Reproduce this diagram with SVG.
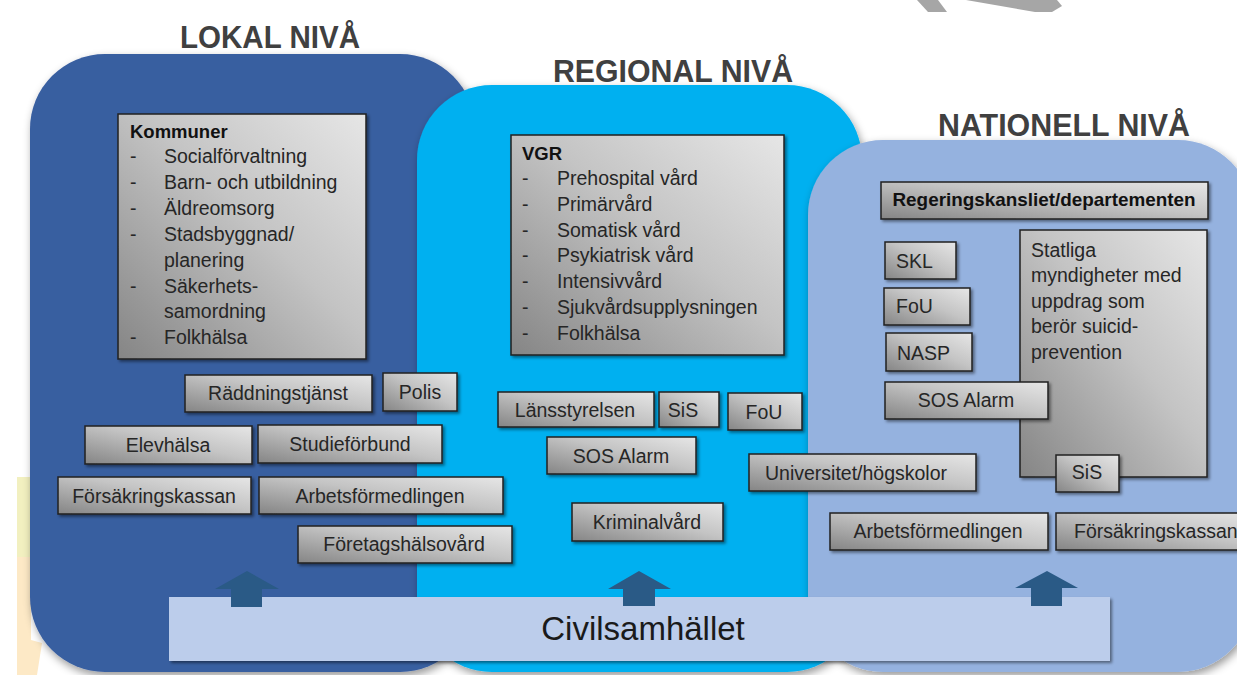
<svg xmlns="http://www.w3.org/2000/svg" width="1237" height="675" viewBox="0 0 1237 675">
<defs>
<linearGradient id="gbox" x1="0" y1="1" x2="1" y2="0">
<stop offset="0" stop-color="#858585"/>
<stop offset="0.55" stop-color="#c4c4c4"/>
<stop offset="1" stop-color="#e6e6e6"/>
</linearGradient>
<filter id="psh" x="-10%" y="-10%" width="125%" height="125%">
<feDropShadow dx="2" dy="4" stdDeviation="4" flood-color="#000" flood-opacity="0.4"/>
</filter>
<filter id="bsh" x="-10%" y="-20%" width="125%" height="150%">
<feDropShadow dx="2" dy="2" stdDeviation="1.5" flood-color="#000" flood-opacity="0.45"/>
</filter>
</defs>
<style>
.box{fill:url(#gbox);stroke:#1f1f1f;stroke-width:1.5;filter:url(#bsh)}
.t{font-family:"Liberation Sans",Arial,sans-serif;font-size:19.5px;fill:#262626}
.c{text-anchor:middle}
.b{font-weight:bold;fill:#111}
.title{font-family:"Liberation Sans",Arial,sans-serif;font-size:32px;font-weight:bold;fill:#404040;text-anchor:middle}
.arrow{fill:#2a5a86}
</style>
<rect width="1237" height="675" fill="#ffffff"/>
<g id="decor">
<polygon points="917,0 938,0 947,12 928,12" fill="#a6a6a6"/>
<polygon points="966,0 1057,0 1062,6 1052,12 1035,12" fill="#a6a6a6"/>
<rect x="17" y="477" width="14" height="80" fill="#f2f0c0"/>
<polygon points="17,557 31,557 31,640 42,643 37,675 17,675" fill="#fde9c6"/>
</g>
<g id="panel-lokal"><rect x="30" y="54" width="445" height="618" rx="75" fill="#395ea0" filter="url(#psh)"/></g>
<g id="panel-regional"><rect x="417" y="85" width="445" height="587" rx="75" fill="#00b0f0" filter="url(#psh)"/></g>
<g id="panel-nationell"><rect x="808" y="140" width="445" height="532" rx="75" fill="#95b2df" filter="url(#psh)"/></g>
<g id="titles">
<text class="title" x="270" y="48" textLength="180" lengthAdjust="spacingAndGlyphs">LOKAL NIVÅ</text>
<text class="title" x="673" y="82" textLength="240" lengthAdjust="spacingAndGlyphs">REGIONAL NIVÅ</text>
<text class="title" x="1064" y="136" textLength="252" lengthAdjust="spacingAndGlyphs">NATIONELL NIVÅ</text>
</g>
<g id="kommuner">
<rect class="box" x="118" y="114" width="248" height="245"/>
<text class="t b" x="130" y="138" style="font-size:18.5px">Kommuner</text>
<text class="t" x="130" y="163">-</text><text class="t" x="164" y="163">Socialförvaltning</text>
<text class="t" x="130" y="189">-</text><text class="t" x="164" y="189">Barn- och utbildning</text>
<text class="t" x="130" y="215">-</text><text class="t" x="164" y="215">Äldreomsorg</text>
<text class="t" x="130" y="241">-</text><text class="t" x="164" y="241">Stadsbyggnad/</text>
<text class="t" x="164" y="267">planering</text>
<text class="t" x="130" y="293">-</text><text class="t" x="164" y="293">Säkerhets-</text>
<text class="t" x="164" y="318">samordning</text>
<text class="t" x="130" y="344">-</text><text class="t" x="164" y="344">Folkhälsa</text>
</g>
<g id="vgr">
<rect class="box" x="511" y="135" width="273" height="220"/>
<text class="t b" x="522" y="160" style="font-size:18.5px">VGR</text>
<text class="t" x="522" y="185">-</text><text class="t" x="557" y="185">Prehospital vård</text>
<text class="t" x="522" y="211">-</text><text class="t" x="557" y="211">Primärvård</text>
<text class="t" x="522" y="237">-</text><text class="t" x="557" y="237">Somatisk vård</text>
<text class="t" x="522" y="262">-</text><text class="t" x="557" y="262">Psykiatrisk vård</text>
<text class="t" x="522" y="288">-</text><text class="t" x="557" y="288">Intensivvård</text>
<text class="t" x="522" y="314">-</text><text class="t" x="557" y="314">Sjukvårdsupplysningen</text>
<text class="t" x="522" y="340">-</text><text class="t" x="557" y="340">Folkhälsa</text>
</g>
<g id="raddningstjanst"><rect class="box" x="185" y="375" width="187" height="37"/><text class="t c" x="278" y="400">Räddningstjänst</text></g>
<g id="polis"><rect class="box" x="383" y="373" width="74" height="38"/><text class="t c" x="420" y="399">Polis</text></g>
<g id="elevhalsa"><rect class="box" x="85" y="426" width="167" height="38"/><text class="t c" x="168" y="452">Elevhälsa</text></g>
<g id="studieforbund"><rect class="box" x="258" y="425" width="184" height="38"/><text class="t c" x="350" y="451">Studieförbund</text></g>
<g id="forsakringskassan-lokal"><rect class="box" x="58" y="477" width="193" height="37"/><text class="t c" x="154" y="503">Försäkringskassan</text></g>
<g id="arbetsformedlingen-lokal"><rect class="box" x="259" y="477" width="244" height="37"/><text class="t c" x="380" y="503">Arbetsförmedlingen</text></g>
<g id="foretagshalsovard"><rect class="box" x="298" y="526" width="214" height="37"/><text class="t c" x="404" y="551">Företagshälsovård</text></g>
<g id="lansstyrelsen"><rect class="box" x="498" y="392" width="156" height="35"/><text class="t c" x="575" y="417">Länsstyrelsen</text></g>
<g id="sis-regional"><rect class="box" x="659" y="392" width="60" height="35"/><text class="t c" x="683" y="417">SiS</text></g>
<g id="fou-regional"><rect class="box" x="728" y="393" width="74" height="37"/><text class="t c" x="764" y="419">FoU</text></g>
<g id="sos-regional"><rect class="box" x="547" y="437" width="149" height="37"/><text class="t c" x="621" y="463">SOS Alarm</text></g>
<g id="kriminalvard"><rect class="box" x="572" y="503" width="151" height="38"/><text class="t c" x="647" y="529">Kriminalvård</text></g>
<g id="universitet"><rect class="box" x="749" y="454" width="227" height="37"/><text class="t c" x="856" y="480">Universitet/högskolor</text></g>
<g id="regeringskansliet"><rect class="box" x="881" y="182" width="327" height="37"/><text class="t b c" x="1044" y="206" textLength="303" lengthAdjust="spacingAndGlyphs" style="font-size:19px">Regeringskansliet/departementen</text></g>
<g id="statliga">
<rect class="box" x="1020" y="230" width="187" height="247"/>
<text class="t" x="1031" y="257">Statliga</text>
<text class="t" x="1031" y="282">myndigheter med</text>
<text class="t" x="1031" y="308">uppdrag som</text>
<text class="t" x="1031" y="333">berör suicid-</text>
<text class="t" x="1031" y="359">prevention</text>
</g>
<g id="skl"><rect class="box" x="885" y="242" width="71" height="37"/><text class="t" x="896" y="268">SKL</text></g>
<g id="fou-nationell"><rect class="box" x="884" y="288" width="86" height="37"/><text class="t" x="896" y="313">FoU</text></g>
<g id="nasp"><rect class="box" x="886" y="333" width="86" height="38"/><text class="t" x="897" y="360">NASP</text></g>
<g id="sos-nationell"><rect class="box" x="885" y="382" width="163" height="37"/><text class="t c" x="966" y="407">SOS Alarm</text></g>
<g id="sis-nationell"><rect class="box" x="1056" y="455" width="63" height="37"/><text class="t c" x="1087" y="479">SiS</text></g>
<g id="arbetsformedlingen-nationell"><rect class="box" x="830" y="513" width="218" height="37"/><text class="t c" x="938" y="538">Arbetsförmedlingen</text></g>
<g id="forsakringskassan-nationell"><rect class="box" x="1056" y="513" width="200" height="37"/><text class="t" x="1074" y="538">Försäkringskassan</text></g>
<g id="civilsamhallet">
<rect x="169" y="597" width="941" height="64" fill="#bccdeb" filter="url(#bsh)"/>
<text x="643" y="640" style="font-family:'Liberation Sans',Arial,sans-serif;font-size:33px;fill:#1a1a1a;text-anchor:middle">Civilsamhället</text>
</g>
<g id="connectors">
<polygon class="arrow" points="247,571 279,589 262,589 262,607 231,607 231,589 215,589"/>
<polygon class="arrow" points="639,571 671,589 655,589 655,606 623,606 623,589 608,589"/>
<polygon class="arrow" points="1047,571 1078,588 1062,588 1062,606 1031,606 1031,588 1015,588"/>
</g>
</svg>
